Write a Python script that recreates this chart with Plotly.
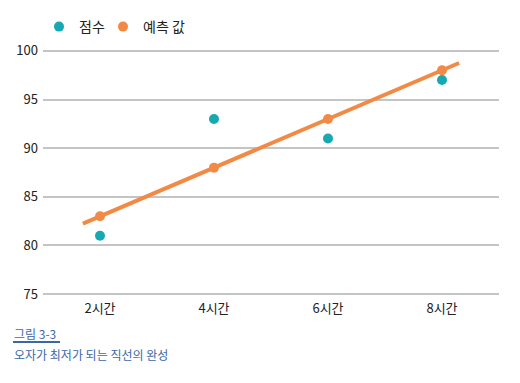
import numpy as np
import plotly.graph_objects as go

categories = ["2시간", "4시간", "6시간", "8시간"]
scores = [81, 93, 91, 97]
predicted = [83, 88, 93, 98]
y_ticks = [75, 80, 85, 90, 95, 100]

TEAL = "#17a9b1"
ORANGE = "#f28a45"
CAP = "#3b67a8"
FONT = "Noto Sans CJK KR"

OFF = 8  # page body margin in the browser
W, H = 520, 383
L, R, T, B = 43 - OFF, 21 + OFF, 46 - OFF, 84 + OFF
PW, PH = W - L - R, H - T - B

def px(x):
    return (x - OFF - L) / PW

def py(y):
    return (H - B - (y - OFF)) / PH

idx = np.arange(len(categories))
slope, intercept = np.polyfit(idx, predicted, 1)
line_x = np.array([-0.15, 3.15])
line_y = slope * line_x + intercept

fig = go.Figure()
fig.add_trace(go.Scatter(x=line_x, y=line_y, mode="lines",
                         line=dict(color=ORANGE, width=4), showlegend=False,
                         hoverinfo="skip"))
fig.add_trace(go.Scatter(x=idx, y=scores, mode="markers", name="점수",
                         marker=dict(color=TEAL, size=10), legend="legend"))
fig.add_trace(go.Scatter(x=idx, y=predicted, mode="markers", name="예측 값",
                         marker=dict(color=ORANGE, size=10), legend="legend2"))

leg_common = dict(orientation="h", xref="container", yref="container",
                  y=1 - 19 / H, xanchor="left", yanchor="middle",
                  font=dict(size=14, color="#222"), itemwidth=30,
                  bgcolor="rgba(0,0,0,0)")

fig.update_layout(
    width=W, height=H,
    margin=dict(l=L, r=R, t=T, b=B, autoexpand=False),
    paper_bgcolor="white", plot_bgcolor="white",
    font=dict(family=FONT, color="#222"),
    showlegend=True,
    legend=dict(x=31 / W, **leg_common),
    legend2=dict(x=95 / W, **leg_common),
    xaxis=dict(range=[-0.5, 3.5], tickvals=list(idx), ticktext=categories,
               showgrid=False, zeroline=False, showline=False, automargin=False,
               tickfont=dict(size=13, color="#222"), ticks=""),
    yaxis=dict(range=[74.5, 100.5], tickvals=y_ticks, showgrid=True,
               gridcolor="#c4c4c4", gridwidth=2, zeroline=False, showline=False,
               automargin=False,
               tickfont=dict(size=13, color="#222"), ticks="", ticklabelstandoff=4),
)

fig.add_annotation(xref="paper", yref="paper", x=px(12), y=py(333),
                   xanchor="left", yanchor="middle", showarrow=False,
                   text="그림 3-3", font=dict(size=12, color=CAP, family=FONT))
fig.add_shape(type="line", xref="paper", yref="paper",
              x0=px(13), x1=px(60), y0=py(342), y1=py(342),
              line=dict(color=CAP, width=2))
fig.add_annotation(xref="paper", yref="paper", x=px(12), y=py(354),
                   xanchor="left", yanchor="middle", showarrow=False,
                   text="오자가 최저가 되는 직선의 완성",
                   font=dict(size=12, color=CAP, family=FONT))

fig.write_html("out.html")
